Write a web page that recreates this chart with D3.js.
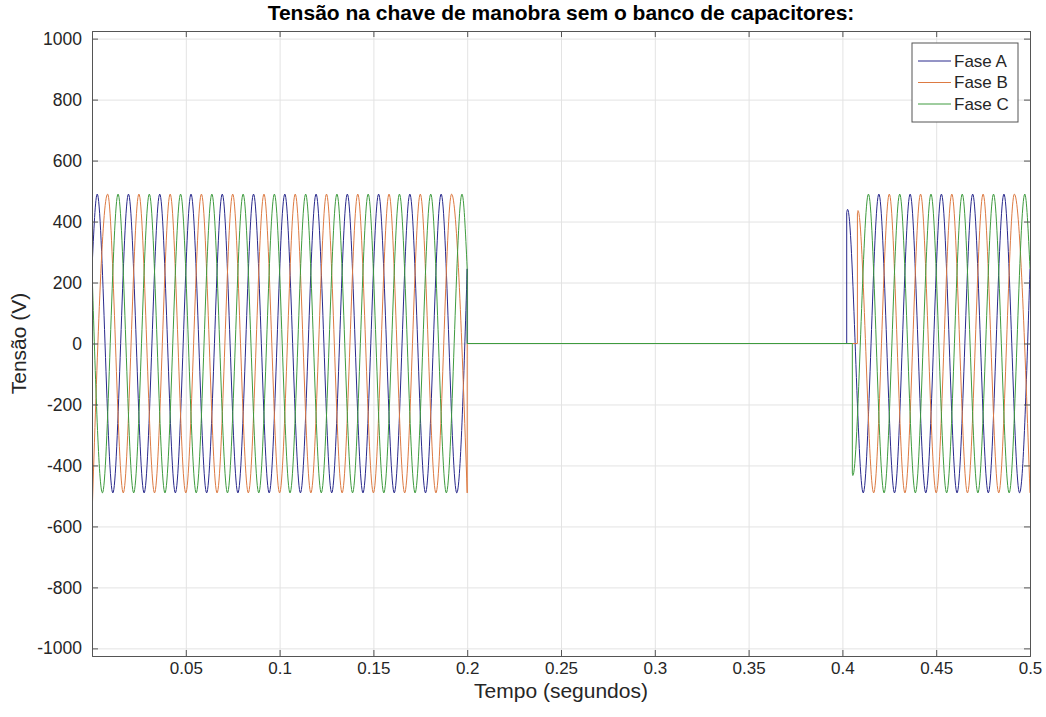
<!DOCTYPE html>
<html>
<head>
<meta charset="utf-8">
<script src="https://cdn.jsdelivr.net/npm/d3@7"></script>
<style>
  body { margin: 0; background: #fff; }
  svg { display: block; font-family: "Liberation Sans", Arial, sans-serif; }
  .grid line { stroke: #e3e3e3; }
  .grid path { display: none; }
  .axis path, .axis line { stroke: #555; }
  .axis text { fill: #262626; }
</style>
</head>
<body>
<div id="chart"><svg></svg></div>
<script>
// peaks / troughs, 60 Hz three phase, opened at 0.2 s and closed again near 0.40 s
const faseA_t1 = [0, 0.00278, 0.01111, 0.01944, 0.02778, 0.03611, 0.04444, 0.05278, 0.06111, 0.06944, 0.07778,
  0.08611, 0.09444, 0.10278, 0.11111, 0.11944, 0.12778, 0.13611, 0.14444, 0.15278, 0.16111, 0.16944, 0.17778,
  0.18611, 0.19444, 0.2];
const faseA_v1 = [245, 490, -490, 490, -490, 490, -490, 490, -490, 490, -490, 490, -490, 490, -490, 490, -490,
  490, -490, 490, -490, 490, -490, 490, -490, 245];
const faseB_t1 = [0, 0.00833, 0.01667, 0.025, 0.03333, 0.04167, 0.05, 0.05833, 0.06667, 0.075, 0.08333, 0.09167,
  0.1, 0.10833, 0.11667, 0.125, 0.13333, 0.14167, 0.15, 0.15833, 0.16667, 0.175, 0.18333, 0.19167, 0.2];
const faseB_v1 = [-570, 490, -490, 490, -490, 490, -490, 490, -490, 490, -490, 490, -490, 490, -490, 490, -490,
  490, -490, 490, -490, 490, -490, 490, -490];
const faseC_t1 = [0, 0.00556, 0.01389, 0.02222, 0.03056, 0.03889, 0.04722, 0.05556, 0.06389, 0.07222, 0.08056,
  0.08889, 0.09722, 0.10556, 0.11389, 0.12222, 0.13056, 0.13889, 0.14722, 0.15556, 0.16389, 0.17222, 0.18056,
  0.18889, 0.19722, 0.2];
const faseC_v1 = [245, -490, 490, -490, 490, -490, 490, -490, 490, -490, 490, -490, 490, -490, 490, -490, 490,
  -490, 490, -490, 490, -490, 490, -490, 490, 245];

const faseA_t2 = [0.4023, 0.40278, 0.41111, 0.41944, 0.42778, 0.43611, 0.44444, 0.45278, 0.46111, 0.46944,
  0.47778, 0.48611, 0.49444, 0.5];
const faseA_v2 = [430, 440, -490, 490, -490, 490, -490, 490, -490, 490, -490, 490, -490, 245];
const faseB_t2 = [0.4080, 0.40833, 0.41667, 0.425, 0.43333, 0.44167, 0.45, 0.45833, 0.46667, 0.475, 0.48333,
  0.49167, 0.5];
const faseB_v2 = [425, 436, -490, 490, -490, 490, -490, 490, -490, 490, -490, 490, -490];
const faseC_t2 = [0.4053, 0.40556, 0.41389, 0.42222, 0.43056, 0.43889, 0.44722, 0.45556, 0.46389, 0.47222,
  0.48056, 0.48889, 0.49722, 0.5];
const faseC_v2 = [-425, -433, 490, -490, 490, -490, 490, -490, 490, -490, 490, -490, 490, 245];

// breaker instants: opening and per-phase closing
const tAbertura = 0.2;
const tFechamento = [0.4023, 0.4080, 0.4053];

const fases = ["Fase A", "Fase B", "Fase C"];
const cores = ["#28288c", "#dd7a42", "#3e9b3e"];

const xTicks = [0.05, 0.1, 0.15, 0.2, 0.25, 0.3, 0.35, 0.4, 0.45, 0.5];
const yTicks = [-1000, -800, -600, -400, -200, 0, 200, 400, 600, 800, 1000];

document.addEventListener("DOMContentLoaded", function () {
  const margin = { top: 31, right: 16, bottom: 61, left: 92 },
    width = 1046 - margin.left - margin.right,
    height = 717 - margin.top - margin.bottom;

  const svg = d3
    .select("#chart svg")
    .attr("width", 1046)
    .attr("height", 717)
    .append("g")
    .attr("transform", `translate(${margin.left},${margin.top})`);

  const x = d3.scaleLinear().domain([0, 0.5]).range([0, width]);
  const y = d3.scaleLinear().domain([-1025, 1025]).range([height, 0]);

  // grid
  svg
    .append("g")
    .attr("class", "grid")
    .call(d3.axisBottom(x).tickValues(xTicks).tickSize(height).tickFormat(""));
  svg
    .append("g")
    .attr("class", "grid")
    .call(d3.axisLeft(y).tickValues(yTicks).tickSize(-width).tickFormat(""));

  svg
    .append("defs")
    .append("clipPath")
    .attr("id", "clip")
    .append("rect")
    .attr("width", width)
    .attr("height", height);

  const curva = d3
    .line()
    .x((d) => x(d[0]))
    .y((d) => y(d[1]))
    .curve(d3.curveMonotoneX);
  const reta = d3
    .line()
    .x((d) => x(d[0]))
    .y((d) => y(d[1]));

  const series = [
    [faseA_t1, faseA_v1, faseA_t2, faseA_v2],
    [faseB_t1, faseB_v1, faseB_t2, faseB_v2],
    [faseC_t1, faseC_v1, faseC_t2, faseC_v2],
  ];

  const plot = svg.append("g").attr("clip-path", "url(#clip)");

  series.forEach((s, i) => {
    const seg1 = s[0].map((t, j) => [t, s[1][j]]);
    const seg2 = s[2].map((t, j) => [t, s[3][j]]);
    const chave = [
      [tAbertura, s[1][s[1].length - 1]],
      [tAbertura, 0],
      [tFechamento[i], 0],
      [tFechamento[i], s[3][0]],
    ];
    [curva(seg1), reta(chave), curva(seg2)].forEach((d) => {
      plot
        .append("path")
        .attr("d", d)
        .attr("fill", "none")
        .attr("stroke", cores[i])
        .attr("stroke-width", 1);
    });
  });

  // axes, ticks inside, box on
  svg
    .append("g")
    .attr("class", "axis")
    .attr("transform", `translate(0,${height})`)
    .call(d3.axisBottom(x).tickValues(xTicks).tickSize(-6).tickPadding(6).tickFormat((d) => d))
    .call((g) => g.selectAll("text").style("font-size", "17px"));
  svg
    .append("g")
    .attr("class", "axis")
    .call(d3.axisTop(x).tickValues(xTicks).tickSize(-6).tickFormat(""));
  svg
    .append("g")
    .attr("class", "axis")
    .call(d3.axisLeft(y).tickValues(yTicks).tickSize(-6).tickPadding(10).tickFormat((d) => d))
    .call((g) => g.selectAll("text").style("font-size", "17.5px"));
  svg
    .append("g")
    .attr("class", "axis")
    .attr("transform", `translate(${width},0)`)
    .call(d3.axisRight(y).tickValues(yTicks).tickSize(-6).tickFormat(""));

  svg
    .selectAll(".axis path")
    .attr("stroke-width", 1);

  // titles
  svg
    .append("text")
    .attr("x", width / 2)
    .attr("y", -11)
    .attr("text-anchor", "middle")
    .style("font-size", "21px")
    .style("font-weight", "bold")
    .text("Tensão na chave de manobra sem o banco de capacitores:");

  svg
    .append("text")
    .attr("x", width / 2)
    .attr("y", height + 42)
    .attr("text-anchor", "middle")
    .style("font-size", "21px")
    .style("fill", "#262626")
    .text("Tempo (segundos)");

  svg
    .append("text")
    .attr("transform", `translate(${-66},${height / 2}) rotate(-90)`)
    .attr("text-anchor", "middle")
    .style("font-size", "21px")
    .style("fill", "#262626")
    .text("Tensão (V)");

  // legend
  const legend = svg.append("g").attr("transform", `translate(${width - 118},${12})`);
  legend
    .append("rect")
    .attr("width", 106)
    .attr("height", 79)
    .attr("fill", "#fff")
    .attr("stroke", "#555");
  fases.forEach((f, i) => {
    const g = legend.append("g").attr("transform", `translate(0,${18 + i * 21.5})`);
    g.append("line")
      .attr("x1", 6)
      .attr("x2", 39)
      .attr("stroke", cores[i])
      .attr("stroke-width", 1);
    g.append("text")
      .attr("x", 42)
      .attr("dy", "0.35em")
      .style("font-size", "17px")
      .style("fill", "#262626")
      .text(f);
  });
});
</script>
</body>
</html>
